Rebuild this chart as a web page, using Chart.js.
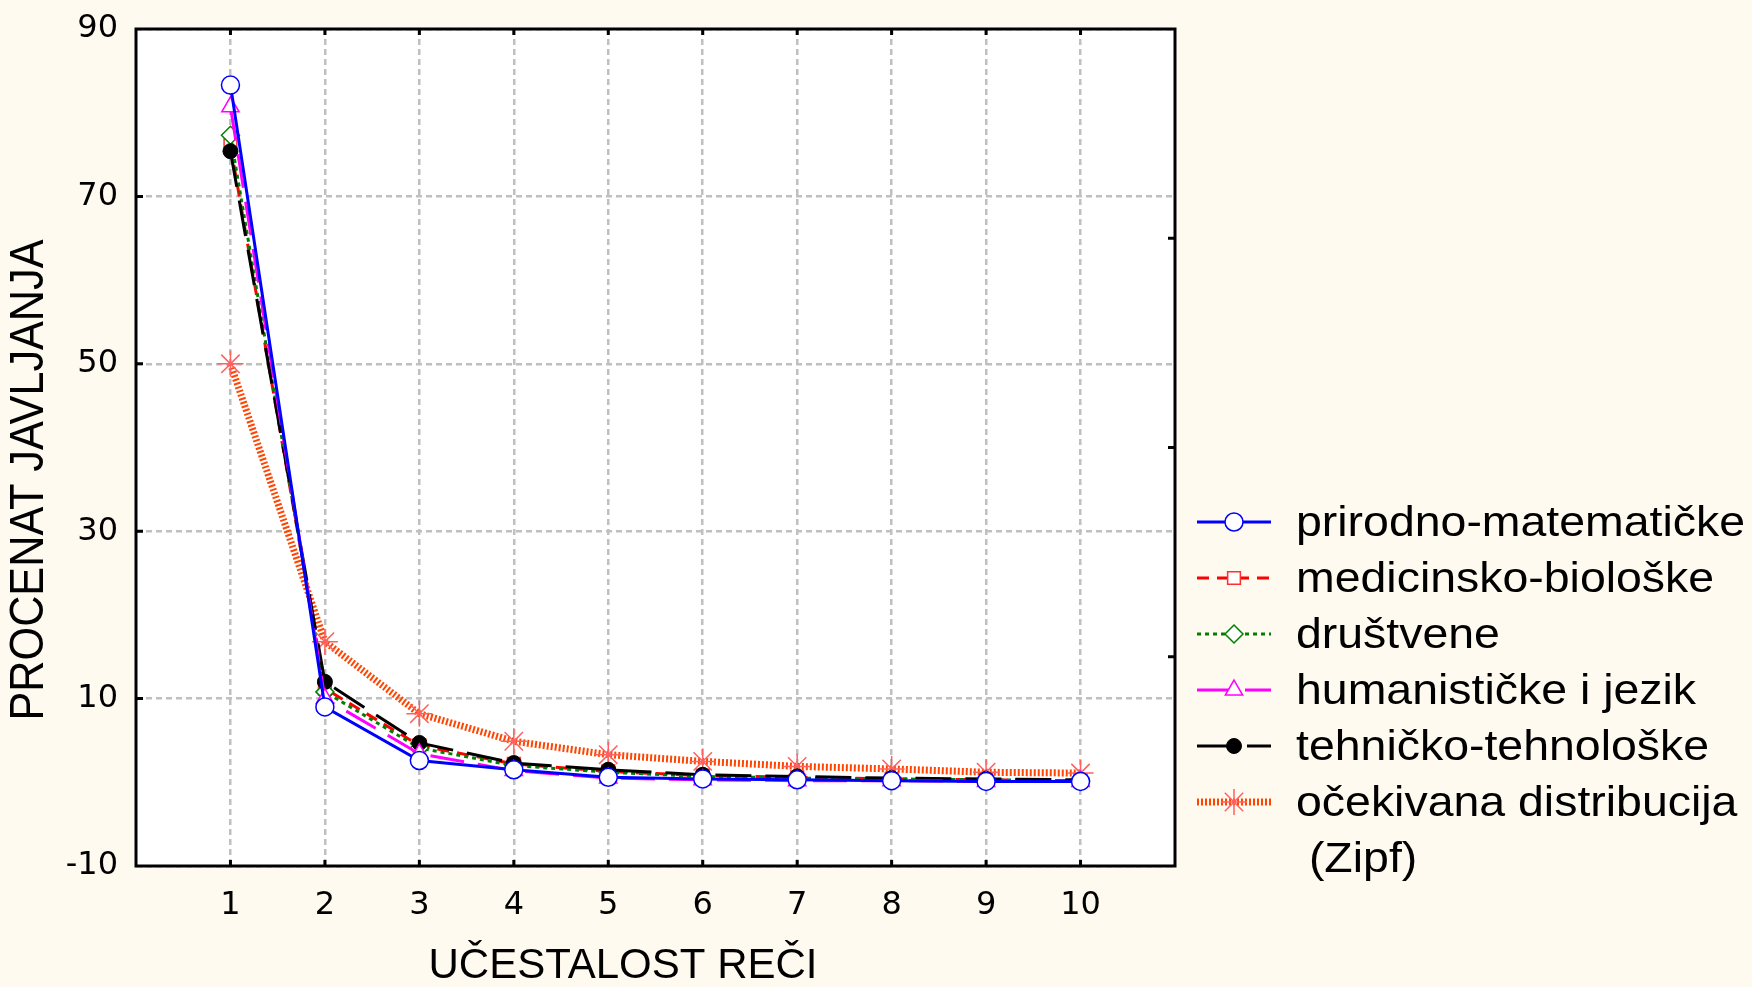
<!DOCTYPE html>
<html>
<head>
<meta charset="utf-8">
<script src="https://cdn.jsdelivr.net/npm/chart.js@4.4.1/dist/chart.umd.min.js"></script>
<style>
  html, body { margin: 0; padding: 0; background: #fffaf0; }
  #wrap { width: 1752px; height: 987px; }
</style>
</head>
<body>
<div id="wrap"><canvas id="grafik"></canvas></div>
<script>
// podaci procitani sa slike
const kategorije = [1, 2, 3, 4, 5, 6, 7, 8, 9, 10];
const prirodno = [83.3, 9.0, 2.6, 1.5, 0.6, 0.4, 0.3, 0.2, 0.1, 0.1];
const medicinsko = [76.1, 11.2, 4.4, 2.2, 1.3, 0.8, 0.6, 0.4, 0.3, 0.2];
const drustvene = [77.3, 10.8, 4.1, 2.0, 1.2, 0.7, 0.5, 0.4, 0.3, 0.2];
const humanisticke = [80.7, 10.0, 3.4, 1.4, 0.5, 0.3, 0.2, 0.2, 0.1, 0.1];
const tehnicko = [75.4, 12.0, 4.7, 2.3, 1.5, 0.9, 0.7, 0.5, 0.4, 0.3];
const zipf = [50.0, 16.8, 8.2, 4.9, 3.3, 2.5, 1.9, 1.6, 1.2, 1.1];

const nazivi = ['prirodno-matematičke', 'medicinsko-biološke', 'društvene',
    'humanističke i jezik', 'tehničko-tehnološke', 'očekivana distribucija\n (Zipf)'];
const yTicks = [-10, 10, 30, 50, 70, 90];
const yDesniTicks = [15, 40, 65];
const xNaslov = 'UČESTALOST REČI';
const yNaslov = 'PROCENAT JAVLJANJA';

const tacke = niz => kategorije.map((k, i) => ({ x: k, y: niz[i] }));

// pozadina, okvir, unutrasnje crtice, naslovi osa i legenda
const dekor = {
    id: 'dekor',
    beforeDraw(chart) {
        const { ctx, chartArea: a } = chart;
        ctx.save();
        ctx.fillStyle = '#fffaf0';
        ctx.fillRect(0, 0, chart.width, chart.height);
        ctx.fillStyle = '#ffffff';
        ctx.fillRect(a.left, a.top, a.right - a.left, a.bottom - a.top);
        ctx.restore();
    },
    afterDraw(chart) {
        const { ctx, chartArea: a, scales } = chart;
        ctx.save();
        ctx.strokeStyle = '#000';
        ctx.lineWidth = 3;
        ctx.strokeRect(a.left, a.top, a.right - a.left, a.bottom - a.top);
        ctx.beginPath();
        kategorije.forEach(k => {
            const px = scales.x.getPixelForValue(k);
            ctx.moveTo(px, a.bottom); ctx.lineTo(px, a.bottom - 6);
            ctx.moveTo(px, a.top); ctx.lineTo(px, a.top + 6);
        });
        yTicks.slice(1, -1).forEach(v => {
            const py = scales.y.getPixelForValue(v);
            ctx.moveTo(a.left, py); ctx.lineTo(a.left + 7, py);
        });
        yDesniTicks.forEach(v => {
            const py = scales.y.getPixelForValue(v);
            ctx.moveTo(a.right, py); ctx.lineTo(a.right - 7, py);
        });
        ctx.stroke();

        // naslovi osa
        ctx.fillStyle = '#000';
        ctx.textAlign = 'center';
        ctx.textBaseline = 'middle';
        ctx.font = '42px "Liberation Sans", Arial, sans-serif';
        ctx.fillText(xNaslov, 623, 966);
        ctx.save();
        ctx.translate(30, 480);
        ctx.rotate(-Math.PI / 2);
        ctx.scale(0.9, 1);
        ctx.font = '48px "Liberation Sans", Arial, sans-serif';
        ctx.fillText(yNaslov, 0, 0);
        ctx.restore();

        // legenda
        const x0 = 1197, x1 = 1271, xm = 1234, xt = 1296;
        let y = 522;
        chart.data.datasets.forEach((ds, i) => {
            ctx.save();
            ctx.strokeStyle = ds.borderColor;
            ctx.lineWidth = ds.borderWidth;
            ctx.setLineDash(ds.borderDash || []);
            ctx.beginPath();
            ctx.moveTo(x0, y); ctx.lineTo(x1, y);
            ctx.stroke();
            ctx.setLineDash([]);
            ctx.fillStyle = ds.pointBackgroundColor;
            ctx.strokeStyle = ds.pointBorderColor;
            ctx.lineWidth = ds.pointBorderWidth;
            Chart.helpers.drawPoint(ctx, {
                pointStyle: ds.pointStyle, radius: ds.pointRadius,
                rotation: 0, borderWidth: ds.pointBorderWidth
            }, xm, y);
            ctx.restore();
            nazivi[i].split('\n').forEach(red => {
                ctx.save();
                ctx.translate(xt, y + 2);
                ctx.scale(1.08, 1);
                ctx.fillStyle = '#000';
                ctx.textAlign = 'left';
                ctx.font = '43px "Liberation Sans", Arial, sans-serif';
                ctx.fillText(red, 0, 0);
                ctx.restore();
                y += 56;
            });
        });
        ctx.restore();
    }
};

const grafik = new Chart(document.getElementById('grafik').getContext('2d'), {
    type: 'line',
    data: {
        datasets: [{
                label: nazivi[0],
                data: tacke(prirodno),
                borderColor: '#0000ff',
                borderWidth: 3,
                pointStyle: 'circle',
                pointRadius: 9,
                pointBorderWidth: 1.5,
                pointBorderColor: '#0000ff',
                pointBackgroundColor: '#ffffff',
                order: 0
            },
            {
                label: nazivi[1],
                data: tacke(medicinsko),
                borderColor: '#ff0000',
                borderWidth: 3,
                borderDash: [12, 8],
                pointStyle: 'rect',
                pointRadius: 9,
                pointBorderWidth: 1.5,
                pointBorderColor: '#ff3030',
                pointBackgroundColor: '#ffffff',
                order: 4
            },
            {
                label: nazivi[2],
                data: tacke(drustvene),
                borderColor: '#008000',
                borderWidth: 3,
                borderDash: [4, 4],
                pointStyle: 'rectRot',
                pointRadius: 9,
                pointBorderWidth: 1.5,
                pointBorderColor: '#008000',
                pointBackgroundColor: '#ffffff',
                order: 3
            },
            {
                label: nazivi[3],
                data: tacke(humanisticke),
                borderColor: '#ff00ff',
                borderWidth: 3,
                borderDash: [34, 14],
                pointStyle: 'triangle',
                pointRadius: 10,
                pointBorderWidth: 1.5,
                pointBorderColor: '#ff00ff',
                pointBackgroundColor: '#ffffff',
                order: 1
            },
            {
                label: nazivi[4],
                data: tacke(tehnicko),
                borderColor: '#000000',
                borderWidth: 3,
                borderDash: [36, 14],
                pointStyle: 'circle',
                pointRadius: 7.5,
                pointBorderWidth: 1,
                pointBorderColor: '#000000',
                pointBackgroundColor: '#000000',
                order: 2
            },
            {
                label: nazivi[5],
                data: tacke(zipf),
                borderColor: '#ff4500',
                borderWidth: 7,
                borderDash: [2, 2],
                pointStyle: 'star',
                pointRadius: 13,
                pointBorderWidth: 1.5,
                pointBorderColor: '#ff6060',
                pointBackgroundColor: '#ff6060',
                order: 5
            }
        ]
    },
    options: {
        responsive: true,
        maintainAspectRatio: false,
        animation: false,
        layout: {
            padding: { left: 0, right: 577, top: 29, bottom: 0 }
        },
        scales: {
            x: {
                type: 'linear',
                min: 0,
                max: 11,
                afterBuildTicks: axis => { axis.ticks = kategorije.map(v => ({ value: v })); },
                afterFit: s => { s.height = 121; s.paddingLeft = 0; s.paddingRight = 0; },
                grid: {
                    color: '#c0c0c0',
                    lineWidth: 2.5,
                    drawTicks: false
                },
                border: { display: false, dash: [6, 4] },
                ticks: {
                    padding: 20,
                    color: '#000',
                    font: { family: '"DejaVu Sans", sans-serif', size: 32 }
                }
            },
            y: {
                min: -10,
                max: 90,
                afterBuildTicks: axis => { axis.ticks = yTicks.map(v => ({ value: v })); },
                afterFit: s => { s.width = 136; s.paddingTop = 0; s.paddingBottom = 0; },
                grid: {
                    color: '#c0c0c0',
                    lineWidth: 2.5,
                    drawTicks: false
                },
                border: { display: false, dash: [6, 4] },
                ticks: {
                    padding: 18,
                    color: '#000',
                    font: { family: '"DejaVu Sans", sans-serif', size: 32 }
                }
            }
        },
        plugins: {
            legend: { display: false },
            tooltip: { enabled: false }
        }
    },
    plugins: [dekor]
});
</script>
</body>
</html>
